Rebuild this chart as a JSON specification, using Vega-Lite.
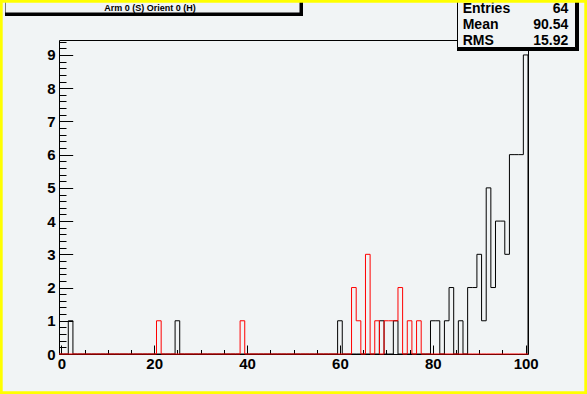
{
"$schema":"https://vega.github.io/schema/vega-lite/v6.json",
"width":469,"height":314,"autosize":"none",
"padding":{"left":59,"top":40,"right":59,"bottom":40},
"background":"#f1f4f5",
"config":{"view":{"stroke":"#000000","strokeWidth":1,"fill":"#f1f4f5"},"font":"Liberation Sans"},
"layer":[
{
"data":{"values":[
{"lo":-0.5,"h1":0,"h2":0},{"lo":0.5,"h1":0,"h2":0},{"lo":1.5,"h1":1,"h2":0},{"lo":2.5,"h1":0,"h2":0},{"lo":3.5,"h1":0,"h2":0},
{"lo":4.5,"h1":0,"h2":0},{"lo":5.5,"h1":0,"h2":0},{"lo":6.5,"h1":0,"h2":0},{"lo":7.5,"h1":0,"h2":0},{"lo":8.5,"h1":0,"h2":0},
{"lo":9.5,"h1":0,"h2":0},{"lo":10.5,"h1":0,"h2":0},{"lo":11.5,"h1":0,"h2":0},{"lo":12.5,"h1":0,"h2":0},{"lo":13.5,"h1":0,"h2":0},
{"lo":14.5,"h1":0,"h2":0},{"lo":15.5,"h1":0,"h2":0},{"lo":16.5,"h1":0,"h2":0},{"lo":17.5,"h1":0,"h2":0},{"lo":18.5,"h1":0,"h2":0},
{"lo":19.5,"h1":0,"h2":0},{"lo":20.5,"h1":0,"h2":1},{"lo":21.5,"h1":0,"h2":0},{"lo":22.5,"h1":0,"h2":0},{"lo":23.5,"h1":0,"h2":0},
{"lo":24.5,"h1":1,"h2":0},{"lo":25.5,"h1":0,"h2":0},{"lo":26.5,"h1":0,"h2":0},{"lo":27.5,"h1":0,"h2":0},{"lo":28.5,"h1":0,"h2":0},
{"lo":29.5,"h1":0,"h2":0},{"lo":30.5,"h1":0,"h2":0},{"lo":31.5,"h1":0,"h2":0},{"lo":32.5,"h1":0,"h2":0},{"lo":33.5,"h1":0,"h2":0},
{"lo":34.5,"h1":0,"h2":0},{"lo":35.5,"h1":0,"h2":0},{"lo":36.5,"h1":0,"h2":0},{"lo":37.5,"h1":0,"h2":0},{"lo":38.5,"h1":0,"h2":1},
{"lo":39.5,"h1":0,"h2":0},{"lo":40.5,"h1":0,"h2":0},{"lo":41.5,"h1":0,"h2":0},{"lo":42.5,"h1":0,"h2":0},{"lo":43.5,"h1":0,"h2":0},
{"lo":44.5,"h1":0,"h2":0},{"lo":45.5,"h1":0,"h2":0},{"lo":46.5,"h1":0,"h2":0},{"lo":47.5,"h1":0,"h2":0},{"lo":48.5,"h1":0,"h2":0},
{"lo":49.5,"h1":0,"h2":0},{"lo":50.5,"h1":0,"h2":0},{"lo":51.5,"h1":0,"h2":0},{"lo":52.5,"h1":0,"h2":0},{"lo":53.5,"h1":0,"h2":0},
{"lo":54.5,"h1":0,"h2":0},{"lo":55.5,"h1":0,"h2":0},{"lo":56.5,"h1":0,"h2":0},{"lo":57.5,"h1":0,"h2":0},{"lo":58.5,"h1":0,"h2":0},
{"lo":59.5,"h1":1,"h2":0},{"lo":60.5,"h1":0,"h2":0},{"lo":61.5,"h1":0,"h2":0},{"lo":62.5,"h1":0,"h2":2},{"lo":63.5,"h1":0,"h2":1},
{"lo":64.5,"h1":0,"h2":0},{"lo":65.5,"h1":0,"h2":3},{"lo":66.5,"h1":0,"h2":0},{"lo":67.5,"h1":0,"h2":1},{"lo":68.5,"h1":1,"h2":0},
{"lo":69.5,"h1":0,"h2":1},{"lo":70.5,"h1":0,"h2":1},{"lo":71.5,"h1":1,"h2":1},{"lo":72.5,"h1":0,"h2":2},{"lo":73.5,"h1":0,"h2":0},
{"lo":74.5,"h1":0,"h2":1},{"lo":75.5,"h1":0,"h2":0},{"lo":76.5,"h1":0,"h2":1},{"lo":77.5,"h1":0,"h2":0},{"lo":78.5,"h1":0,"h2":0},
{"lo":79.5,"h1":1,"h2":0},{"lo":80.5,"h1":1,"h2":0},{"lo":81.5,"h1":0,"h2":0},{"lo":82.5,"h1":1,"h2":0},{"lo":83.5,"h1":2,"h2":0},
{"lo":84.5,"h1":0,"h2":0},{"lo":85.5,"h1":1,"h2":0},{"lo":86.5,"h1":0,"h2":0},{"lo":87.5,"h1":2,"h2":0},{"lo":88.5,"h1":2,"h2":0},
{"lo":89.5,"h1":3,"h2":0},{"lo":90.5,"h1":1,"h2":0},{"lo":91.5,"h1":5,"h2":0},{"lo":92.5,"h1":2,"h2":0},{"lo":93.5,"h1":4,"h2":0},
{"lo":94.5,"h1":4,"h2":0},{"lo":95.5,"h1":3,"h2":0},{"lo":96.5,"h1":6,"h2":0},{"lo":97.5,"h1":6,"h2":0},{"lo":98.5,"h1":6,"h2":0},
{"lo":99.5,"h1":9,"h2":0},{"lo":100.5,"h1":0,"h2":0}
]},
"transform":[{"fold":["h1","h2"],"as":["hist","count"]}],
"mark":{"type":"line","interpolate":"step-after","strokeWidth":1},
"encoding":{
"x":{"field":"lo","type":"quantitative","scale":{"domain":[-0.5,100.5],"nice":false,"zero":false},
 "axis":{"title":null,"grid":false,"domain":false,"values":[0,5,10,15,20,25,30,35,40,45,50,55,60,65,70,75,80,85,90,95,100],
  "tickColor":"#000000","tickWidth":1,"tickSize":{"condition":{"test":"datum.value % 20 === 0","value":-9},"value":-4.5},
  "labelExpr":"datum.value % 20 === 0 ? format(datum.value, 'd') : ''","labelFont":"Liberation Sans","labelFontWeight":"bold","labelFontSize":15,
  "labelColor":"#000000","labelPadding":11.5,"labelOverlap":false,"labelFlush":false,"labelBound":false}},
"y":{"field":"count","type":"quantitative","scale":{"domain":[0,9.45],"nice":false,"zero":true},
 "axis":{"title":null,"grid":false,"domain":false,"values":[0,0.2,0.4,0.6,0.8,1,1.2,1.4,1.6,1.8,2,2.2,2.4,2.6,2.8,3,3.2,3.4,3.6,3.8,4,4.2,4.4,4.6,4.8,5,5.2,5.4,5.6,5.8,6,6.2,6.4,6.6,6.8,7,7.2,7.4,7.6,7.8,8,8.2,8.4,8.6,8.8,9,9.2,9.4],
  "tickColor":"#000000","tickWidth":1,"tickSize":{"condition":{"test":"datum.value % 1 === 0","value":-13.7},"value":-7},
  "labelExpr":"datum.value % 1 === 0 ? format(datum.value, 'd') : ''","labelFont":"Liberation Sans","labelFontWeight":"bold","labelFontSize":15,
  "labelColor":"#000000","labelPadding":17.7,"labelOverlap":false,"labelFlush":false,"labelBound":false}},
"color":{"field":"hist","type":"nominal","scale":{"domain":["h1","h2"],"range":["#000000","#ff0000"]},"legend":null}
}
},
{
"data":{"values":[{"stat":"Entries","value":"64"},{"stat":"Mean","value":"90.54"},{"stat":"RMS","value":"15.92"}]},
"mark":{"type":"point","opacity":0,"filled":true,"fill":"#f1f4f5","stroke":"#000000","strokeWidth":1},
"encoding":{
"fill":{"field":"stat","type":"nominal","scale":{"domain":["Entries","Mean","RMS"],"range":["#000000","#000000","#000000"]},
 "legend":{"orient":"none","legendX":403.7,"legendY":-37.6,"title":null,"padding":0,"symbolSize":0,"symbolStrokeWidth":0,"symbolOpacity":0,
  "labelOffset":-14,"labelFont":"Liberation Sans","labelFontWeight":"bold","labelFontSize":14,"labelColor":"#000000","rowPadding":1.6,"zindex":5}},
"stroke":{"field":"value","type":"nominal","scale":{"domain":["64","90.54","15.92"],"range":["#000000","#000000","#000000"]},
 "legend":{"orient":"none","legendX":509.3,"legendY":-37.6,"title":null,"padding":0,"symbolSize":0,"symbolStrokeWidth":0,"symbolOpacity":0,
  "labelOffset":-14,"labelAlign":"right","labelFont":"Liberation Sans","labelFontWeight":"bold","labelFontSize":14,"labelColor":"#000000","rowPadding":1.6,"zindex":5}},
"size":{"datum":"stats","type":"ordinal","scale":{"range":[4,4]},
 "legend":{"orient":"none","legendX":398,"legendY":-41,"title":null,"padding":0,"fillColor":"#000000","labelFontSize":1,"labelExpr":"''","zindex":4,
  "symbolType":"M-1,-1H117V47H-1Z M118,48","symbolSize":4,"symbolFillColor":"#f1f4f5","symbolStrokeColor":"#000000","symbolStrokeWidth":1,"symbolOpacity":1}}
}
},
{
"data":{"values":[{"title":"Arm 0 (S) Orient 0 (H)"}]},
"mark":{"type":"point","opacity":0,"filled":true,"fill":"#f1f4f5","stroke":"#000000","strokeWidth":1},
"encoding":{
"shape":{"field":"title","type":"nominal","scale":{"range":["M-4,-4H290V9H-4Z M291,10"]},
 "legend":{"orient":"none","legendX":-54,"legendY":-41,"title":null,"padding":0,"fillColor":"#000000","labelFont":"Liberation Sans","labelFontWeight":"bold","labelFontSize":9,
  "labelColor":"#000000","labelAlign":"center","labelBaseline":"top","labelOffset":136,"labelLimit":400,"zindex":4,
  "symbolSize":4,"symbolFillColor":"#f1f4f5","symbolStrokeColor":"#000000","symbolStrokeWidth":1,"symbolOpacity":1}}
}
},
{
"data":{"values":[{"canvas":"c1"}]},
"mark":{"type":"point","opacity":0,"filled":true,"fill":"#ffff00","strokeWidth":0},
"encoding":{
"strokeDash":{"field":"canvas","type":"nominal",
 "legend":{"orient":"none","legendX":-59,"legendY":-40,"title":null,"padding":0,"labelFontSize":1,"labelExpr":"''","zindex":6,
  "symbolType":"M-1,-1H586V393H-1Z M1.7,1.7V390.3H583.3V1.7Z","symbolSize":4,"symbolFillColor":"#ffff00","symbolStrokeColor":"transparent","symbolStrokeWidth":0,"symbolOpacity":1,"symbolDash":[]}}
}
}
]
}
